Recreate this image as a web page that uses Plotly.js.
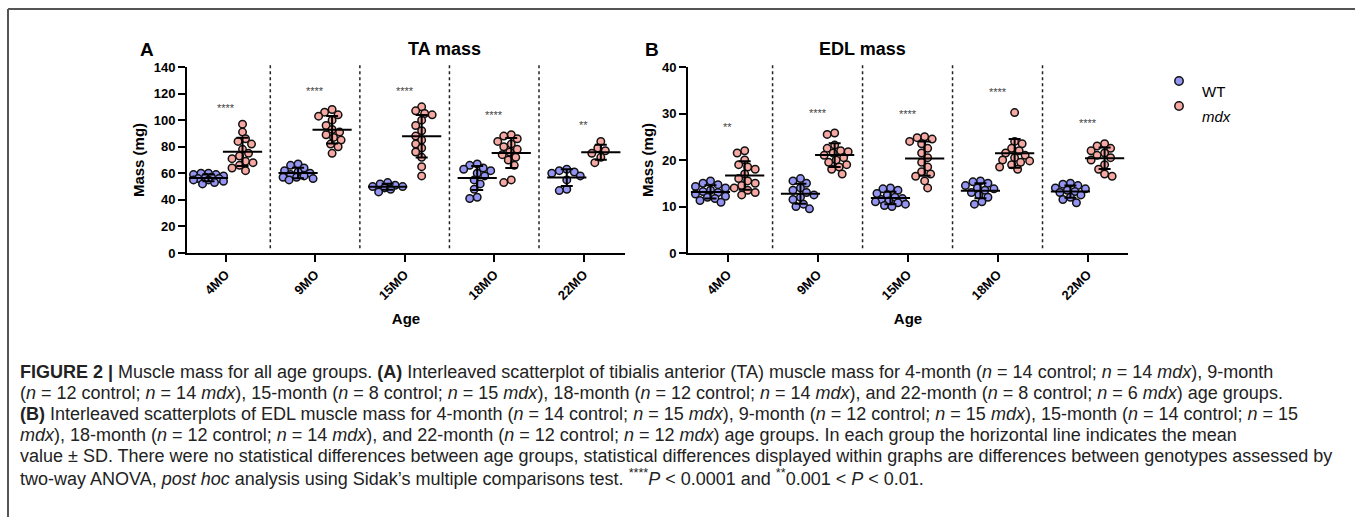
<!DOCTYPE html>
<html><head><meta charset="utf-8">
<script src="https://cdn.plot.ly/plotly-3.0.1.min.js"></script>
<style>html,body{margin:0;padding:0;background:#fff}#chart{width:1355px;height:517px}</style>
</head><body><div id="chart"></div>
<script>
// ---------------- DATA ----------------
const ageGroups = ['4MO', '9MO', '15MO', '18MO', '22MO'];

// TA mass (mg)
const taWT = [
  [60, 60, 59, 59, 58, 57, 57, 56, 56, 55, 55, 54, 53, 52],
  [67, 66, 64, 62, 61, 60, 59, 58, 57, 57, 56, 55],
  [53, 52, 51, 50, 50, 49, 48, 46],
  [67, 66, 64, 63, 62, 60, 58, 55, 52, 48, 42, 41],
  [63, 62, 61, 60, 58, 55, 48, 47]
];
const taMdx = [
  [97, 91, 86, 84, 82, 78, 75, 73, 71, 69, 68, 66, 64, 62],
  [108, 106, 104, 103, 100, 96, 93, 91, 89, 87, 85, 82, 80, 75],
  [110, 107, 105, 104, 100, 96, 92, 88, 85, 82, 79, 76, 72, 65, 58],
  [89, 88, 86, 84, 82, 80, 78, 76, 74, 72, 70, 66, 55, 53],
  [84, 79, 77, 75, 72, 68]
];
const taStars = ['****', '****', '****', '****', '**'];
const taStarY = [109, 122, 122, 104, 96];

// EDL mass (mg)
const edlWT = [
  [15.5, 15, 14.7, 14.3, 14, 13.5, 13.2, 13, 12.7, 12.2, 12, 11.7, 11.3, 10.9],
  [16, 15.5, 15, 14, 13.5, 13, 12.5, 12, 11.5, 10.5, 10, 9.5],
  [14, 13.8, 13.5, 12.8, 12.5, 12, 11.7, 11.5, 11.2, 11, 10.8, 10.5, 10.2, 10],
  [15.5, 15.3, 15, 14.5, 14, 13.8, 13.5, 13, 12.5, 12, 11, 10.5],
  [15, 14.8, 14.5, 14, 13.8, 13.5, 13.2, 13, 12.5, 12, 11.5, 10.8]
];
const edlMdx = [
  [22, 21.5, 20, 19, 18.5, 18, 17, 16, 15.5, 15, 14.5, 14, 13.5, 13, 12.5],
  [25.8, 25.5, 23.2, 22.5, 22, 21.8, 21.5, 21, 20.5, 20, 19.5, 19, 18.5, 18, 17],
  [25, 24.8, 24.5, 24, 23.5, 22.5, 21.5, 20.5, 19.5, 18.5, 17.5, 17, 16.5, 15.5, 14],
  [30.2, 24, 23.5, 22.5, 22, 21.5, 21, 20.5, 20, 19.8, 19.5, 19, 18.5, 18],
  [23.5, 23, 22.5, 22, 21.5, 21, 20.5, 20, 19, 18, 17, 16.5]
];
const edlStars = ['**', '****', '****', '****', '****'];
const edlStarY = [27.2, 30.2, 30, 34.7, 28];

const seriesNames = ['WT', 'mdx'];
const panelTitles = ['TA mass', 'EDL mass'];
const panelLetters = ['A', 'B'];
const yTitle = 'Mass (mg)';
const xTitle = 'Age';
const captionLines = [
  '<b>FIGURE 2 |</b> Muscle mass for all age groups. <b>(A)</b> Interleaved scatterplot of tibialis anterior (TA) muscle mass for 4-month (<i>n</i> = 14 control; <i>n</i> = 14 <i>mdx</i>), 9-month',
  '(<i>n</i> = 12 control; <i>n</i> = 14 <i>mdx</i>), 15-month (<i>n</i> = 8 control; <i>n</i> = 15 <i>mdx</i>), 18-month (<i>n</i> = 12 control; <i>n</i> = 14 <i>mdx</i>), and 22-month (<i>n</i> = 8 control; <i>n</i> = 6 <i>mdx</i>) age groups.',
  '<b>(B)</b> Interleaved scatterplots of EDL muscle mass for 4-month (<i>n</i> = 14 control; <i>n</i> = 15 <i>mdx</i>), 9-month (<i>n</i> = 12 control; <i>n</i> = 15 <i>mdx</i>), 15-month (<i>n</i> = 14 control; <i>n</i> = 15',
  '<i>mdx</i>), 18-month (<i>n</i> = 12 control; <i>n</i> = 14 <i>mdx</i>), and 22-month (<i>n</i> = 12 control; <i>n</i> = 12 <i>mdx</i>) age groups. In each group the horizontal line indicates the mean',
  'value ± SD. There were no statistical differences between age groups, statistical differences displayed within graphs are differences between genotypes assessed by',
  'two-way ANOVA, <i>post hoc</i> analysis using Sidak’s multiple comparisons test. <sup>****</sup><i>P</i> &lt; 0.0001 and <sup>**</sup>0.001 &lt; <i>P</i> &lt; 0.01.'
];

// ---------------- LAYOUT CONSTANTS ----------------
const W = 1355, H = 517;
const FONT = 'Liberation Sans, Arial, Helvetica, sans-serif';
const colWT = '#9494f2', colMdx = '#f6a8a2';
const xDomA = [187 / W, 625 / W], xDomB = [688 / W, 1128 / W];
const yDom = [(H - 253) / H, (H - 67) / H];
const xRangeA = [-0.43, 4.46], xRangeB = [-0.44, 4.45];
const yRangeA = [0, 140], yRangeB = [0, 40];
const groupShift = 0.19;
const mSize = 7.5, mLine = 1.5;
const capTop = 372, capStep = 21, capSize = 18;

function pxPerCat(dom, rng) { return (dom[1] - dom[0]) * W / (rng[1] - rng[0]); }
function pxPerUnit(rng) { return (yDom[1] - yDom[0]) * H / (rng[1] - rng[0]); }

// deterministic beeswarm (pixel space) -> offsets in px
function swarm(vals, pyu) {
  const d = 7.2, step = 1.5, maxOff = 16;
  const order = vals.map((v, i) => i).sort((a, b) => vals[b] - vals[a]);
  const placed = [], offs = new Array(vals.length).fill(0);
  order.forEach((i, n) => {
    const yp = vals[i] * pyu;
    let best = null, bestScore = -1, bestOff = 0;
    const sgn = (n % 2 === 0) ? 1 : -1;
    for (let k = 0; k * step <= maxOff; k++) {
      const cands = k === 0 ? [0] : [sgn * k * step, -sgn * k * step];
      for (const off of cands) {
        let minD = Infinity;
        placed.forEach(p => { const dd = Math.hypot(p.x - off, p.y - yp); if (dd < minD) minD = dd; });
        if (minD >= d) { best = off; break; }
        if (minD > bestScore) { bestScore = minD; bestOff = off; }
      }
      if (best !== null) break;
    }
    if (best === null) best = bestOff;
    offs[i] = best;
    placed.push({ x: best, y: yp });
  });
  return offs;
}

function mean(a) { return a.reduce((s, v) => s + v, 0) / a.length; }
function sd(a) { const m = mean(a); return Math.sqrt(a.reduce((s, v) => s + (v - m) * (v - m), 0) / (a.length - 1)); }

const traces = [];
function addPanel(wt, mdx, xa, ya, xDom, xRng, yRng) {
  const pxc = pxPerCat(xDom, xRng), pyu = pxPerUnit(yRng);
  [[wt, -groupShift, colWT, seriesNames[0]], [mdx, groupShift, colMdx, seriesNames[1]]].forEach(([groups, shift, col, name]) => {
    const xs = [], ys = [];
    groups.forEach((vals, gi) => {
      const offs = swarm(vals, pyu);
      vals.forEach((v, j) => { xs.push(gi + shift + offs[j] / pxc); ys.push(v); });
    });
    traces.push({
      type: 'scatter', mode: 'markers', x: xs, y: ys, xaxis: xa, yaxis: ya, name: name, showlegend: false,
      marker: { size: mSize, color: col, line: { color: '#111', width: mLine } }, hoverinfo: 'y'
    });
  });
  [[wt, -groupShift], [mdx, groupShift]].forEach(([groups, shift]) => {
    traces.push({
      type: 'scatter', mode: 'markers', xaxis: xa, yaxis: ya, showlegend: false,
      x: groups.map((g, gi) => gi + shift), y: groups.map(mean),
      marker: { symbol: 'line-ew', size: 28, color: '#000', line: { color: '#000', width: 2 } },
      error_y: { type: 'data', array: groups.map(sd), visible: true, color: '#000', thickness: 2, width: 6 },
      hoverinfo: 'y'
    });
  });
}
addPanel(taWT, taMdx, 'x', 'y', xDomA, xRangeA, yRangeA);
addPanel(edlWT, edlMdx, 'x2', 'y2', xDomB, xRangeB, yRangeB);

const tickFont = { family: FONT, size: 13, color: '#000', weight: 'bold' };
const titleFont = { family: FONT, size: 15, color: '#000', weight: 'bold' };
function xAxis(dom, rng) {
  return {
    domain: dom, range: rng, tickmode: 'array', tickvals: ageGroups.map((g, i) => i), ticktext: ageGroups,
    tickangle: -45, ticks: 'outside', ticklen: 7, tickwidth: 2, tickcolor: '#000',
    showline: true, linewidth: 2, linecolor: '#000', showgrid: false, zeroline: false,
    tickfont: tickFont, title: { text: '<b>' + xTitle + '</b>', font: titleFont, standoff: 12 }, fixedrange: true
  };
}
function yAxis(rng, dtick, anchor) {
  return {
    domain: yDom, range: rng, dtick: dtick, tick0: 0, anchor: anchor, ticks: 'outside', ticklen: 7, tickwidth: 2, tickcolor: '#000',
    showline: true, linewidth: 2, linecolor: '#000', showgrid: false, zeroline: false,
    tickfont: tickFont, title: { text: '<b>' + yTitle + '</b>', font: titleFont, standoff: 5 }, fixedrange: true
  };
}

const annotations = [];
[[taStars, taStarY, 'x', 'y'], [edlStars, edlStarY, 'x2', 'y2']].forEach(([labs, ys, xr, yr]) => {
  labs.forEach((t, i) => annotations.push({
    x: i, y: ys[i], xref: xr, yref: yr, text: t, showarrow: false, font: { family: FONT, size: 11, color: '#444' }, yanchor: 'middle'
  }));
});
annotations.push(
  { x: 138 / W, y: 1 - 37 / H, xref: 'paper', yref: 'paper', text: '<b>' + panelLetters[0] + '</b>', showarrow: false, font: { family: FONT, size: 19, color: '#000' } },
  { x: 652 / W, y: 1 - 37 / H, xref: 'paper', yref: 'paper', text: '<b>' + panelLetters[1] + '</b>', showarrow: false, font: { family: FONT, size: 19, color: '#000' } },
  { x: (xDomA[0] + xDomA[1]) / 2, y: 1 - 37 / H, xref: 'paper', yref: 'paper', text: '<b>' + panelTitles[0] + '</b>', showarrow: false, font: { family: FONT, size: 18, color: '#000' } },
  { x: (xDomB[0] + xDomB[1]) / 2, y: 1 - 37 / H, xref: 'paper', yref: 'paper', text: '<b>' + panelTitles[1] + '</b>', showarrow: false, font: { family: FONT, size: 18, color: '#000' } },
  { x: 1200 / W, y: 1 - 81 / H, xref: 'paper', yref: 'paper', text: seriesNames[0], xanchor: 'left', showarrow: false, font: { family: FONT, size: 15, color: '#000' } },
  { x: 1200 / W, y: 1 - 106 / H, xref: 'paper', yref: 'paper', text: '<i>' + seriesNames[1] + '</i>', xanchor: 'left', showarrow: false, font: { family: FONT, size: 15, color: '#000' } }
);
captionLines.forEach((t, i) => annotations.push({
  x: 18 / W, y: 1 - (capTop + i * capStep) / H, xref: 'paper', yref: 'paper', text: t, xanchor: 'left', yanchor: 'middle', showarrow: false,
  font: { family: FONT, size: capSize, color: '#222' }
}));

const shapes = [];
['x', 'x2'].forEach(xr => {
  for (let i = 0; i < ageGroups.length - 1; i++) {
    shapes.push({ type: 'line', xref: xr, yref: xr === 'x' ? 'y domain' : 'y2 domain', x0: i + 0.5, x1: i + 0.5, y0: 0.025, y1: 1.02,
      line: { color: '#222', width: 1.5, dash: 'dot' } });
  }
});
// legend markers
[[81, colWT], [106, colMdx]].forEach(([py, col]) => shapes.push({
  type: 'circle', xref: 'paper', yref: 'paper', xsizemode: 'pixel', ysizemode: 'pixel',
  xanchor: 1179 / W, yanchor: 1 - py / H, x0: -4.2, x1: 4.2, y0: -4.2, y1: 4.2,
  fillcolor: col, line: { color: '#111', width: 1.5 }
}));
// figure frame (top and left)
shapes.push({ type: 'line', xref: 'paper', yref: 'paper', x0: 8 / W, x1: 1, y0: 1 - 9 / H, y1: 1 - 9 / H, line: { color: '#555', width: 2 } });
shapes.push({ type: 'line', xref: 'paper', yref: 'paper', x0: 8 / W, x1: 8 / W, y0: 0, y1: 1 - 9 / H, line: { color: '#555', width: 2 } });

const layout = {
  width: W, height: H, margin: { l: 0, r: 0, t: 0, b: 0 }, paper_bgcolor: '#fff', plot_bgcolor: '#fff',
  showlegend: false, font: { family: FONT },
  xaxis: xAxis(xDomA, xRangeA), yaxis: yAxis(yRangeA, 20, 'x'),
  xaxis2: xAxis(xDomB, xRangeB), yaxis2: yAxis(yRangeB, 10, 'x2'),
  annotations: annotations, shapes: shapes
};
layout.xaxis.anchor = 'y';
layout.xaxis2.anchor = 'y2';

Plotly.newPlot('chart', traces, layout, { staticPlot: true, displayModeBar: false });
</script></body></html>
